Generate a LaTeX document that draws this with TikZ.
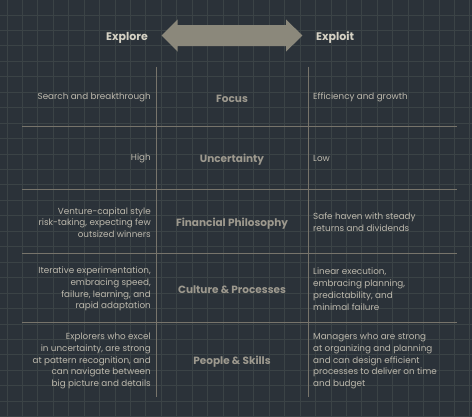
\documentclass[tikz,border=0pt]{standalone}
\usepackage{fontspec}
\setmainfont{Poppins}
\definecolor{bg}{HTML}{2B3239}
\definecolor{gridc}{HTML}{3B4346}
\definecolor{rule}{HTML}{77746B}
\definecolor{arrowc}{HTML}{8B887B}
\definecolor{titlec}{HTML}{D6D2C4}
\definecolor{bodyc}{HTML}{BDB9AD}
\definecolor{labelc}{HTML}{9D998E}
\tikzset{
  title/.style={text=titlec, font=\fontsize{11}{12}\selectfont\bfseries, inner sep=0pt},
  leftt/.style={text=bodyc, font=\fontsize{8.8}{11.8}\selectfont, align=right, anchor=east, inner sep=0pt},
  rightt/.style={text=bodyc, font=\fontsize{8.8}{11.8}\selectfont, align=left, anchor=west, inner sep=0pt},
  rowlabel/.style={text=labelc, font=\fontsize{10.5}{12}\selectfont\bfseries, inner sep=0pt},
  rulel/.style={draw=rule, line width=0.8pt},
}
\begin{document}
\begin{tikzpicture}[x=1pt,y=-1pt]
\fill[bg] (0,0) rectangle (472,416);
\useasboundingbox (0,0) rectangle (472,416);
\begin{scope}
\clip (0,0) rectangle (472,416);
\foreach \i in {0,...,31} {
  \draw[gridc, line width=0.9pt] ({7+15.43*\i},0) -- ({7+15.43*\i},416);
  \draw[gridc, line width=0.9pt] (0,{-0.5+15.45*\i}) -- (472,{-0.5+15.45*\i});
}
\end{scope}
% arrow
\coordinate (arr) at (232,35.5);
\fill[arrowc] (161.7,35.5) -- (177.7,19.3) -- (177.7,25) -- (286,25) -- (286,19.3)
  -- (302.3,35.5) -- (286,51.7) -- (286,46) -- (177.7,46) -- (177.7,51.7) -- cycle;
\node[title] (explore) at (127,37.5) {Explore};
\node[title, anchor=west] (exploit) at (316,37.5) {Exploit};
% rules
\draw[rulel] (156.7,66.7) -- (156.7,396.7);
\draw[rulel] (308.3,66.7) -- (308.3,396.7);
\foreach \y in {126,189.3,253.3,322.5} {
  \draw[rulel] (22.3,\y) -- (457.3,\y);
}
% rows
\node[leftt] (l1) at (151,97.5) {Search and breakthrough};
\node[rowlabel] (c1) at (232,98.5) {Focus};
\node[rightt] (r1) at (313,97.5) {Efficiency and growth};

\node[leftt] (l2) at (151,158.5) {High};
\node[rowlabel] (c2) at (232,159.5) {Uncertainty};
\node[rightt] (r2) at (313,158.5) {Low};

\node[leftt] (l3) at (151,222.5) {Venture-capital style\\risk-taking, expecting few\\outsized winners};
\node[rowlabel] (c3) at (232,223.5) {Financial Philosophy};
\node[rightt] (r3) at (313,222.5) {Safe haven with steady\\returns and dividends};

\node[leftt] (l4) at (151,289) {Iterative experimentation,\\embracing speed,\\failure, learning, and\\rapid adaptation};
\node[rowlabel] (c4) at (232,289.5) {Culture \& Processes};
\node[rightt] (r4) at (313,289) {Linear execution,\\embracing planning,\\predictability, and\\minimal failure};

\node[leftt] (l5) at (151,361) {Explorers who excel\\in uncertainty, are strong\\at pattern recognition, and\\can navigate between\\big picture and details};
\node[rowlabel] (c5) at (232,361.5) {People \& Skills};
\node[rightt] (r5) at (313,361) {Managers who are strong\\at organizing and planning\\and can design efficient\\processes to deliver on time\\and budget};
\end{tikzpicture}
\end{document}
